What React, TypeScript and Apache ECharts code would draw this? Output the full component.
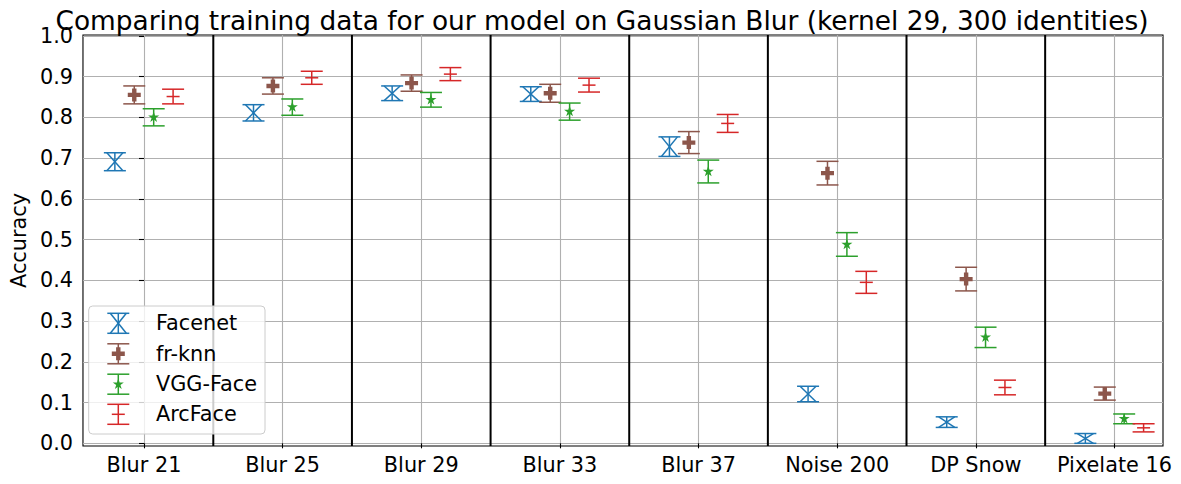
import React, { useEffect, useRef } from "react";
import * as echarts from "echarts";

const categories = ["Blur 21", "Blur 25", "Blur 29", "Blur 33", "Blur 37", "Noise 200", "DP Snow", "Pixelate 16"];
const yTicks = [0, 0.1, 0.2, 0.3, 0.4, 0.5, 0.6, 0.7, 0.8, 0.9, 1.0];

const facenet = [0.691, 0.811, 0.859, 0.857, 0.728, 0.121, 0.052, 0.012];
const facenetErr = [0.022, 0.020, 0.018, 0.018, 0.024, 0.019, 0.013, 0.012];
const frknn = [0.855, 0.877, 0.884, 0.859, 0.738, 0.663, 0.403, 0.122];
const frknnErr = [0.022, 0.020, 0.020, 0.022, 0.027, 0.029, 0.029, 0.016];
const vgg = [0.800, 0.825, 0.843, 0.814, 0.667, 0.488, 0.260, 0.060];
const vggErr = [0.021, 0.020, 0.018, 0.021, 0.028, 0.029, 0.025, 0.012];
const arcface = [0.851, 0.897, 0.906, 0.879, 0.785, 0.395, 0.137, 0.038];
const arcfaceErr = [0.018, 0.016, 0.016, 0.017, 0.022, 0.027, 0.018, 0.010];

const seriesNames = ["Facenet", "fr-knn", "VGG-Face", "ArcFace"];
const offsets = [-0.21, -0.07, 0.07, 0.21];
const colors = ["#1f77b4", "#8c564b", "#2ca02c", "#d62728"];
const kinds = ["x", "P", "star", "hline"];
const values = [facenet, frknn, vgg, arcface];
const errors = [facenetErr, frknnErr, vggErr, arcfaceErr];

const FONT = '"DejaVu Sans", "Liberation Sans", sans-serif';
const CAP = 11;
const LW = 1.5;

function markShapes(kind: string, cx: number, cy: number, yTop: number, yBot: number, color: string): any[] {
  const els: any[] = [];
  const ls = { stroke: color, lineWidth: LW, fill: null };
  els.push({ type: "line", shape: { x1: cx, y1: yTop, x2: cx, y2: yBot }, style: ls });
  els.push({ type: "line", shape: { x1: cx - CAP, y1: yTop, x2: cx + CAP, y2: yTop }, style: ls });
  els.push({ type: "line", shape: { x1: cx - CAP, y1: yBot, x2: cx + CAP, y2: yBot }, style: ls });
  if (kind === "x") {
    const w = 8;
    els.push({ type: "line", shape: { x1: cx - w, y1: yTop, x2: cx + w, y2: yBot }, style: ls });
    els.push({ type: "line", shape: { x1: cx - w, y1: yBot, x2: cx + w, y2: yTop }, style: ls });
  } else if (kind === "P") {
    const s = 6.5, t = 2.2;
    const pts = [[-t, -s], [t, -s], [t, -t], [s, -t], [s, t], [t, t], [t, s], [-t, s], [-t, t], [-s, t], [-s, -t], [-t, -t]]
      .map(([a, b]) => [cx + a, cy + b]);
    els.push({ type: "polygon", shape: { points: pts }, style: { fill: color, stroke: null } });
  } else if (kind === "star") {
    const R = 5.8, r = R * 0.382;
    const pts: number[][] = [];
    for (let i = 0; i < 10; i++) {
      const ang = -Math.PI / 2 + (i * Math.PI) / 5;
      const rr = i % 2 === 0 ? R : r;
      pts.push([cx + rr * Math.cos(ang), cy + rr * Math.sin(ang)]);
    }
    els.push({ type: "polygon", shape: { points: pts }, style: { fill: color, stroke: null } });
  } else if (kind === "hline") {
    els.push({ type: "line", shape: { x1: cx - 6.5, y1: cy, x2: cx + 6.5, y2: cy }, style: ls });
  }
  return els;
}

const separators = categories.slice(1).map((_, i) => i + 0.5);

export default function App() {
  const ref = useRef<HTMLDivElement>(null);
  useEffect(() => {
    if (!ref.current) return;
    const chart = echarts.init(ref.current, null, { renderer: "svg" });

    const dataSeries = seriesNames.map((name, si) => ({
      type: "custom",
      name,
      z: 5 + si,
      data: categories.map((_, ci) => [ci + offsets[si], values[si][ci], errors[si][ci]]),
      renderItem: (params: any, api: any) => {
        const x = api.value(0), v = api.value(1), e = api.value(2);
        const c = api.coord([x, v]);
        const top = api.coord([x, v + e]);
        const bot = api.coord([x, v - e]);
        return { type: "group", children: markShapes(kinds[si], c[0], c[1], top[1], bot[1], colors[si]) };
      },
    }));

    const sepSeries = {
      type: "custom",
      name: "sep",
      z: 3,
      data: separators.map((s) => [s]),
      renderItem: (params: any, api: any) => {
        const cs = params.coordSys;
        const px = api.coord([api.value(0), 0])[0];
        return { type: "line", shape: { x1: px, y1: cs.y, x2: px, y2: cs.y + cs.height }, style: { stroke: "#000", lineWidth: 2 } };
      },
    };

    // legend graphic
    const lgX = 118.3, rows = [323.3, 353.8, 384.2, 414.3];
    const legendEls: any[] = [
      { type: "rect", shape: { x: 88.7, y: 306, width: 176.3, height: 128, r: 4 }, style: { fill: "rgba(255,255,255,0.8)", stroke: "#cccccc", lineWidth: 1 }, z: 100 },
    ];
    seriesNames.forEach((name, si) => {
      const cy = rows[si];
      markShapes(kinds[si], lgX, cy, cy - 10, cy + 10, colors[si]).forEach((el) => legendEls.push({ ...el, z: 101 }));
      legendEls.push({
        type: "text", z: 101, x: 156, y: cy,
        style: { text: name, fill: "#000", font: `20.8px ${FONT}`, textAlign: "left", textVerticalAlign: "middle", align: "left", verticalAlign: "middle" },
      });
    });

    chart.setOption({
      animation: false,
      backgroundColor: "#fff",
      grid: { left: 77, right: 18, top: 35, bottom: 38, show: true, borderColor: "#000", borderWidth: 1.1, backgroundColor: "transparent" },
      xAxis: {
        type: "value",
        min: -0.44,
        max: 7.35,
        axisLine: { show: false },
        axisTick: { show: true, length: 5, lineStyle: { color: "#000", width: 1.1 }, customValues: categories.map((_, i) => i) },
        axisLabel: {
          customValues: categories.map((_, i) => i),
          formatter: (v: number) => categories[Math.round(v)] ?? "",
          color: "#000", fontSize: 20.8, fontFamily: FONT, margin: 8,
        },
        splitLine: { show: true, lineStyle: { color: "#b0b0b0", width: 1.1 } },
      },
      yAxis: {
        type: "value",
        min: -0.0066,
        max: 1.002,
        name: "Accuracy",
        nameLocation: "middle",
        nameRotate: 90,
        nameGap: 50,
        nameTextStyle: { color: "#000", fontSize: 20.8, fontFamily: FONT },
        axisLine: { show: false },
        axisTick: { show: true, length: 5, lineStyle: { color: "#000", width: 1.1 }, customValues: yTicks },
        axisLabel: {
          customValues: yTicks,
          formatter: (v: number) => v.toFixed(1),
          color: "#000", fontSize: 20.8, fontFamily: FONT, margin: 10,
        },
        splitLine: { show: true, lineStyle: { color: "#b0b0b0", width: 1.1 } },
      },
      graphic: [
        {
          type: "text", x: 602, y: 20, z: 100,
          style: {
            text: "Comparing training data for our model on Gaussian Blur (kernel 29, 300 identities)",
            fill: "#000", font: `26.4px ${FONT}`, textAlign: "center", textVerticalAlign: "middle", align: "center", verticalAlign: "middle",
          },
        },
        ...legendEls,
      ],
      series: [sepSeries, ...dataSeries],
    });
    return () => chart.dispose();
  }, []);
  return <div ref={ref} style={{ position: "fixed", left: 0, top: 0, width: 1181, height: 484 }} />;
}
